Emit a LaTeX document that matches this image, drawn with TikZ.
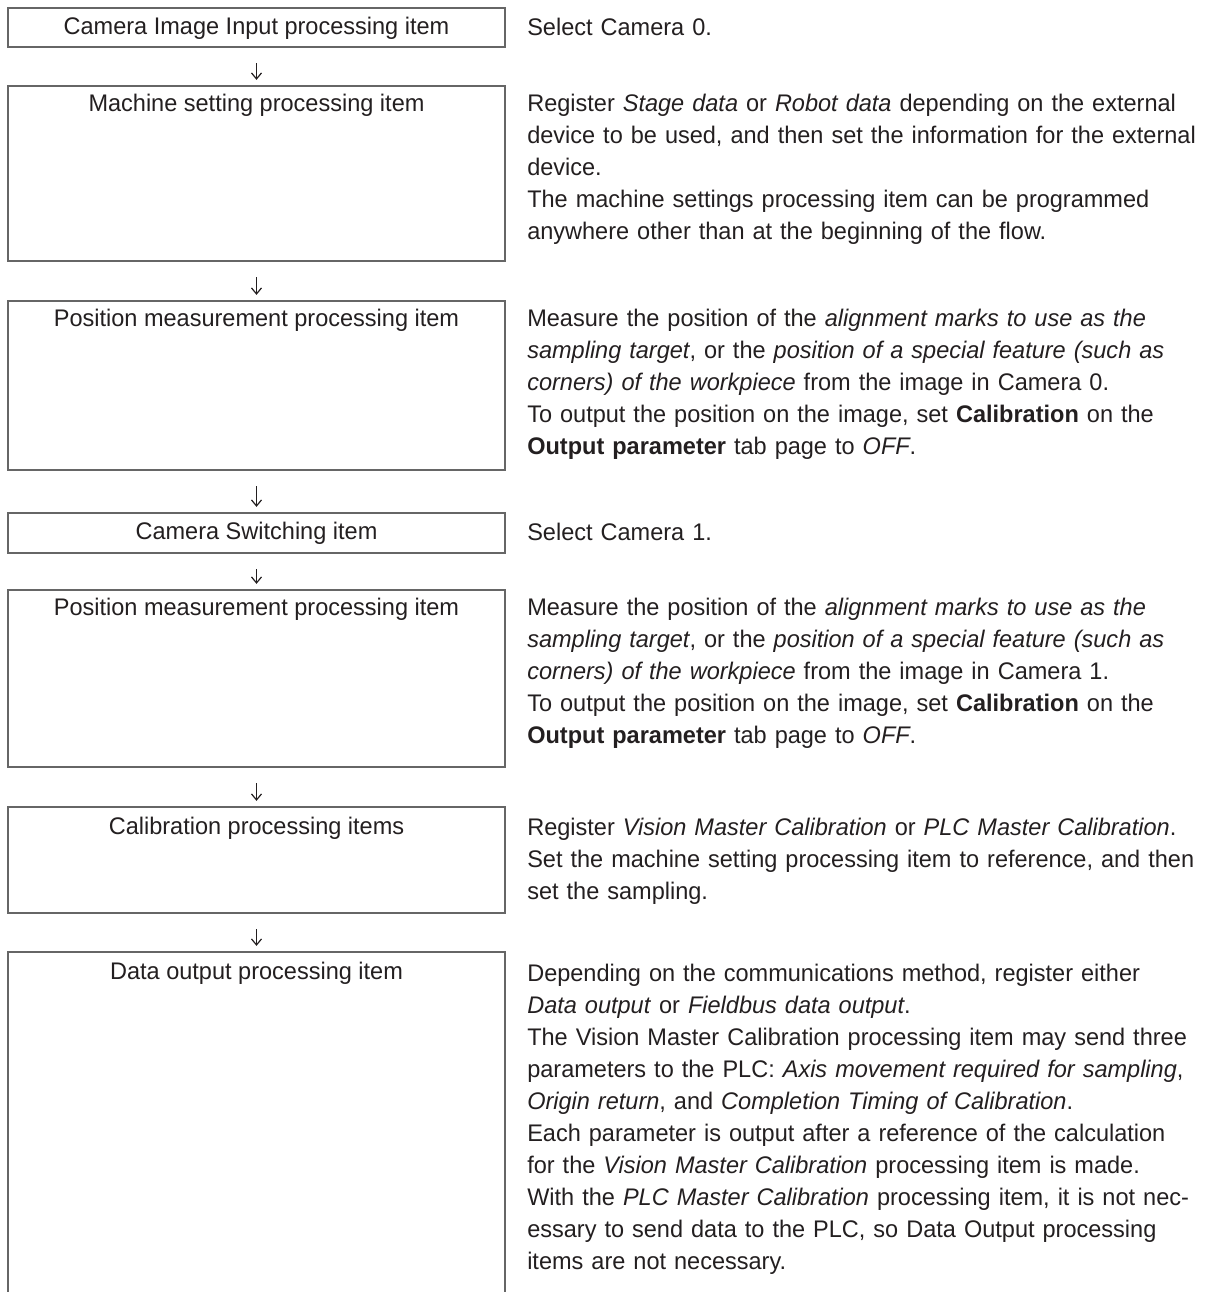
\documentclass[tikz,border=0pt]{standalone}
\usepackage{fontspec}
\setmainfont{Liberation Sans}[FakeStretch=0.98]
\usetikzlibrary{arrows.meta,calc}
\definecolor{txt}{HTML}{231F20}
\definecolor{edge}{HTML}{666666}
\begin{document}
\begin{tikzpicture}[x=0.75pt,y=-0.75pt,
  every node/.style={font=\fontsize{18pt}{24pt}\selectfont, text=txt},
  box/.style={draw=edge, line width=1.2pt, minimum width=372.75pt, inner sep=0pt},
  lbl/.style={anchor=base, inner sep=0pt},
  desc/.style={anchor=base west, inner sep=0pt, align=left, text width=520pt},
  conn/.style={draw=txt, line width=0.9pt, shorten <=11.5pt, shorten >=4pt,
    -{Straight Barb[length=4.5pt,width=7.5pt,line width=0.9pt]}}]
\useasboundingbox (0,0) rectangle (1206,1292);

\node[box, minimum height=29.25pt] (b1) at (256.5,27.5) {};
\node[box, minimum height=131.25pt] (b2) at (256.5,173.5) {};
\node[box, minimum height=126.75pt] (b3) at (256.5,385.5) {};
\node[box, minimum height=30pt] (b4) at (256.5,533) {};
\node[box, minimum height=132.75pt] (b5) at (256.5,678.5) {};
\node[box, minimum height=79.5pt] (b6) at (256.5,860) {};
\node[box, minimum height=276pt] (b7) at (256.5,1136) {};

\node[lbl] (l1) at ($(b1.north)+(0,27)$) {Camera Image Input processing item};
\node[lbl] (l2) at ($(b2.north)+(0,26)$) {Machine setting processing item};
\node[lbl] (l3) at ($(b3.north)+(0,26)$) {Position measurement processing item};
\node[lbl] (l4) at ($(b4.north)+(0,27)$) {Camera Switching item};
\node[lbl] (l5) at ($(b5.north)+(0,26)$) {Position measurement processing item};
\node[lbl] (l6) at ($(b6.north)+(0,28)$) {Calibration processing items};
\node[lbl] (l7) at ($(b7.north)+(0,28)$) {Data output processing item};

\draw[conn] (b1.south) -- (b2.north);
\draw[conn] (b2.south) -- (b3.north);
\draw[conn] (b3.south) -- (b4.north);
\draw[conn] (b4.south) -- (b5.north);
\draw[conn] (b5.south) -- (b6.north);
\draw[conn] (b6.south) -- (b7.north);

\node[desc] (d1) at (527,35) {Select Camera 0.};
\node[desc] (d2) at (527,111) {Register \textit{Stage data} or \textit{Robot data} depending on the external\\
device to be used, and then set the information for the external\\
device.\\
The machine settings processing item can be programmed\\
anywhere other than at the beginning of the flow.};
\node[desc] (d3) at (527,326) {Measure the position of the \textit{alignment marks to use as the}\\
\textit{sampling target}, or the \textit{position of a special feature (such as}\\
\textit{corners) of the workpiece} from the image in Camera 0.\\
To output the position on the image, set \textbf{Calibration} on the\\
\textbf{Output parameter} tab page to \textit{OFF}.};
\node[desc] (d4) at (527,540) {Select Camera 1.};
\node[desc] (d5) at (527,615) {Measure the position of the \textit{alignment marks to use as the}\\
\textit{sampling target}, or the \textit{position of a special feature (such as}\\
\textit{corners) of the workpiece} from the image in Camera 1.\\
To output the position on the image, set \textbf{Calibration} on the\\
\textbf{Output parameter} tab page to \textit{OFF}.};
\node[desc] (d6) at (527,835) {Register \textit{Vision Master Calibration} or \textit{PLC Master Calibration}.\\
Set the machine setting processing item to reference, and then\\
set the sampling.};
\node[desc] (d7) at (527,981) {Depending on the communications method, register either\\
\textit{Data output} or \textit{Fieldbus data output}.\\
The Vision Master Calibration processing item may send three\\
parameters to the PLC: \textit{Axis movement required for sampling},\\
\textit{Origin return}, and \textit{Completion Timing of Calibration}.\\
Each parameter is output after a reference of the calculation\\
for the \textit{Vision Master Calibration} processing item is made.\\
With the \textit{PLC Master Calibration} processing item, it is not nec-\\
essary to send data to the PLC, so Data Output processing\\
items are not necessary.};
\end{tikzpicture}
\end{document}
